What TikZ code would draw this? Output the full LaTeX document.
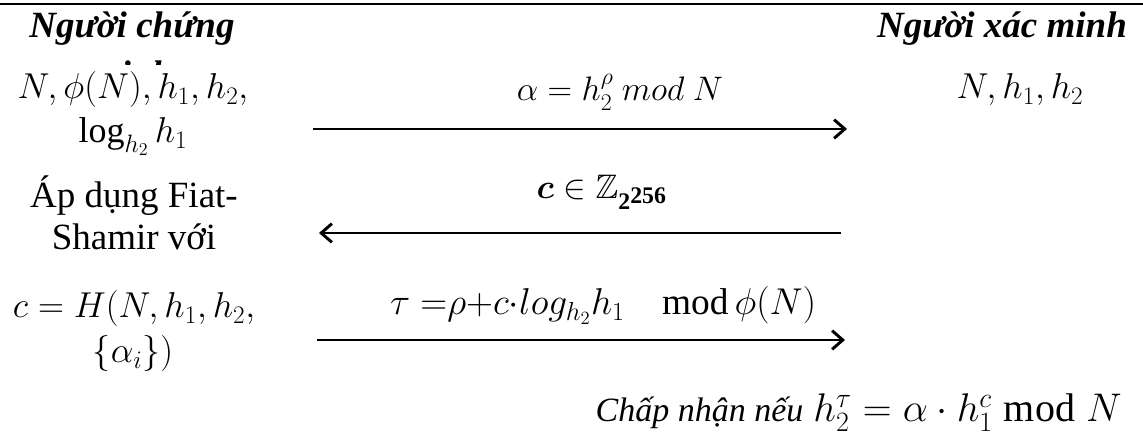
\RequirePackage{fix-cm}
\documentclass[tikz,border=0pt]{standalone}
\usepackage{amsmath,amssymb}
\usepackage{fontspec}
\setmainfont{Liberation Serif}[
  BoldFont={Liberation Serif Bold},
  ItalicFont={Liberation Serif Italic},
  BoldItalicFont={Liberation Serif Bold Italic}]
\usetikzlibrary{arrows.meta}
\tikzset{
  txt/.style={anchor=base, inner sep=0pt, font=\fontsize{27.75}{33}\selectfont},
  lbl/.style={anchor=base, inner sep=0pt, font=\fontsize{25.5}{31}\selectfont},
  mth/.style={anchor=base, inner sep=0pt, font=\fontsize{27}{33}\selectfont},
  hd/.style={anchor=base, inner sep=0pt, font=\fontsize{27.75}{33}\selectfont\bfseries\itshape},
  acc/.style={anchor=base east, inner sep=0pt, font=\fontsize{30}{36}\selectfont},
  rule/.style={line width=2.2pt},
  msg/.style={line width=2.2pt, -{Straight Barb[length=8pt,width=14pt]}},
}
\begin{document}
\begin{tikzpicture}[x=0.75pt,y=-0.75pt]
\useasboundingbox (0,0) rectangle (1143,441);
\coordinate (rl) at (0,4);
\coordinate (rr) at (1143,4);
\draw[rule] (rl) -- (rr);
% headings
\node[hd] (p) at (132,38) {Người chứng};
\begin{scope}
  \clip (0,44) rectangle (300,65);
  \node[hd] (pm) at (132,87) {minh};
\end{scope}
\node[hd] (v) at (1002,38) {Người xác minh};
% left column
\node[mth] (l1a) at (133,99) {$N,\phi(N),h_1,h_2,$};
\node[mth] (l1b) at (133,143) {$\log_{h_2} h_1$};
\node[txt] (l2a) at (134,208) {Áp dụng Fiat-};
\node[txt] (l2b) at (134,250) {Shamir với};
\node[mth] (l3a) at (134,318) {$c = H(N,h_1,h_2,$};
\node[mth] (l3b) at (133,363) {$\{\alpha_i\})$};
% right column
\node[mth] (r1) at (1020,99) {$N,h_1,h_2$};
% messages
\coordinate (a1s) at (313,129);
\coordinate (a1e) at (847,129);
\coordinate (a2s) at (841,233);
\coordinate (a2e) at (319,233);
\coordinate (a3s) at (317,340);
\coordinate (a3e) at (845,340);
\draw[msg] (a1s) -- (a1e);
\draw[msg] (a2s) -- (a2e);
\draw[msg] (a3s) -- (a3e);
\node[lbl] (m1) at (620,101) {$\alpha = h_2^{\rho}\ mod\ N$};
\node[lbl] (m2) at (602,199) {$\boldsymbol{c} \in \mathbb{Z}_{\mathbf{2}^{\scriptstyle\mathbf{256}}}$};
\node[lbl, font=\fontsize{28}{33}\selectfont] (m3) at (603,315) {$\tau\;{=}\rho{+}c{\cdot}log_{h_2}h_1\quad\mathrm{mod}\,\phi(N)$};
% acceptance
\node[acc] (acc) at (1122,422) {{\fontsize{25.5}{30}\selectfont\itshape Chấp nhận nếu} $h_2^{\tau} = \alpha\cdot h_1^{c} \bmod N$};
\end{tikzpicture}
\end{document}
